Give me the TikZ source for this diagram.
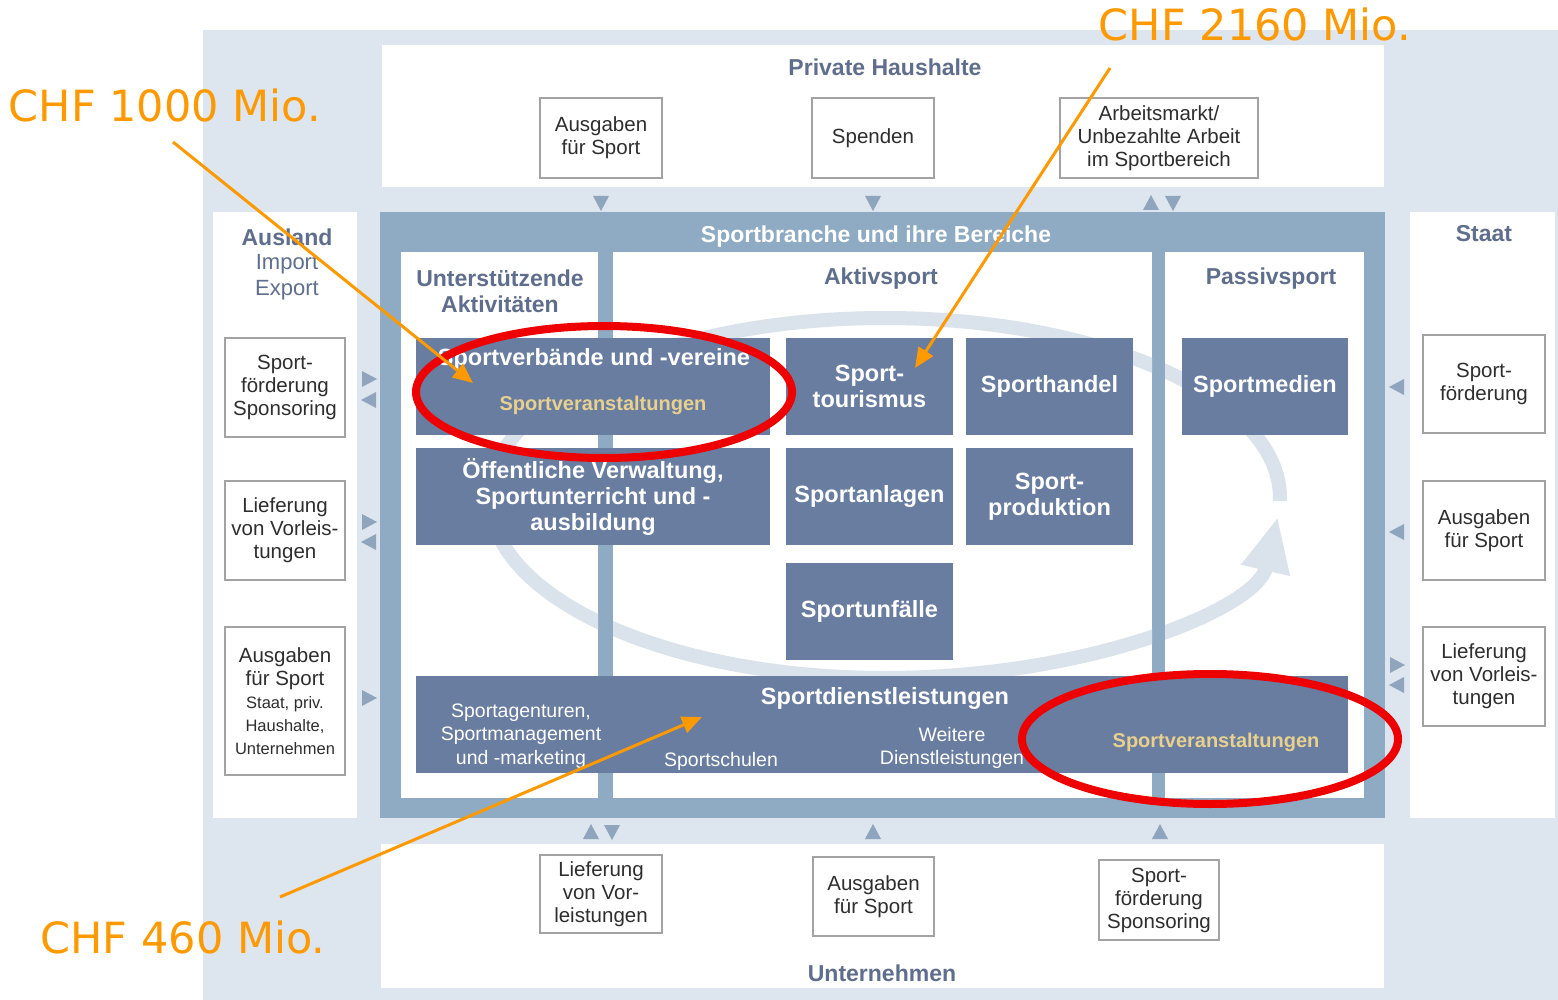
\documentclass[tikz,border=0pt]{standalone}
\usepackage{fontspec}
\setmainfont{Liberation Sans}
\newfontfamily\chffont{DejaVu Sans}
\usetikzlibrary{arrows.meta}
\definecolor{bgpanel}{HTML}{DDE5EE}
\definecolor{framecol}{HTML}{8FABC4}
\definecolor{boxblue}{HTML}{687DA0}
\definecolor{slate}{HTML}{5F6E8C}
\definecolor{tricol}{HTML}{8FA5BD}
\definecolor{boxgray}{HTML}{A3A3A3}
\definecolor{boxtext}{HTML}{2E2E2E}
\definecolor{beige}{HTML}{E8D08F}
\definecolor{cyclecol}{HTML}{DAE2EB}
\definecolor{chforange}{HTML}{FF9900}
\definecolor{ringred}{HTML}{EE0000}
\tikzset{
  smallbox/.style={draw=boxgray, line width=1.5pt, fill=white, align=center,
      inner sep=0pt, text=boxtext, font=\fontsize{20.5}{23}\selectfont},
  darkbox/.style={fill=boxblue, align=center, inner sep=0pt, text=white,
      font=\bfseries\fontsize{23.5}{26}\selectfont},
  boxtitle/.style={text=white, inner sep=0pt, font=\bfseries\fontsize{23.5}{26}\selectfont},
  header/.style={text=slate, align=center, inner sep=0pt, font=\bfseries\fontsize{23}{26}\selectfont},
  subtext/.style={text=white, align=center, inner sep=0pt, font=\fontsize{19.5}{23.5}\selectfont},
  event/.style={text=beige, inner sep=0pt, font=\bfseries\fontsize{20}{24}\selectfont},
  chf/.style={text=chforange, inner sep=0pt, font=\chffont\fontsize{43}{43}\selectfont},
  pointer/.style={draw=chforange, line width=3pt, -{Triangle[length=20pt,width=17pt]}},
  redring/.style={draw=ringred, line width=8pt},
}
\begin{document}
\begin{tikzpicture}[x=1pt, y=-1pt]
  \useasboundingbox (0,0) rectangle (1558,1000);
  % background and sector panels
  \fill[bgpanel] (203,30) rectangle (1558,1000);
  \fill[white] (382,45) rectangle (1384,187);
  \fill[white] (213,212) rectangle (357,818);
  \fill[white] (1410,212) rectangle (1555,818);
  \fill[white] (381,844) rectangle (1384,988);
  \fill[framecol] (380,212) rectangle (1385,818);
  \fill[white] (401,252) rectangle (598,798);
  \fill[white] (613,252) rectangle (1152,798);
  \fill[white] (1165,252) rectangle (1364,798);

  % cycle arrow behind the branches
  \begin{scope}
    \clip (401,252) rectangle (598,798) (613,252) rectangle (1152,798)
          (1165,252) rectangle (1364,798);
    \draw[cyclecol, line width=14pt, -{Triangle[length=55pt,width=46pt]}]
      ({885+395*cos(1)},{498+180*sin(1)})
      arc[start angle=1, end angle=-354, x radius=395, y radius=180];
  \end{scope}

  % headers
  \node[header] (hh) at (885,67) {Private Haushalte};
  \node[header] (ausland) at (287,237) {Ausland};
  \node[header, font=\fontsize{22}{26}\selectfont] (impexp) at (287,277) {Import\\Export};
  \node[header] (staat) at (1484,234) {Staat};
  \node[header] (unt) at (882,973) {Unternehmen};
  \node[header, text=white] (branche) at (876,237) {Sportbranche und ihre Bereiche};
  \node[header] (unterst) at (500,291) {Unterstützende\\Aktivitäten};
  \node[header] (aktiv) at (881,279) {Aktivsport};
  \node[header] (passiv) at (1271,279) {Passivsport};

  % branches
  \node[darkbox, minimum width=354, minimum height=97] (verband) at (593,386.5) {};
  \node[boxtitle] (verbandtxt) at (594,359) {Sportverbände und -vereine};
  \node[event] (eventa) at (603,405) {Sportveranstaltungen};
  \node[darkbox, minimum width=354, minimum height=97] (verwalt) at (593,496.5)
    {Öffentliche Verwaltung,\\Sportunterricht und -\\ausbildung};
  \node[darkbox, minimum width=167, minimum height=97] (tourism) at (869.5,386.5) {Sport-\\tourismus};
  \node[darkbox, minimum width=167, minimum height=97] (handel) at (1049.5,386.5) {Sporthandel};
  \node[darkbox, minimum width=166, minimum height=97] (medien) at (1265,386.5) {Sportmedien};
  \node[darkbox, minimum width=167, minimum height=97] (anlagen) at (869.5,496.5) {Sportanlagen};
  \node[darkbox, minimum width=167, minimum height=97] (produkt) at (1049.5,496.5) {Sport-\\produktion};
  \node[darkbox, minimum width=167, minimum height=97] (unfall) at (869.5,611.5) {Sportunfälle};
  \node[darkbox, minimum width=932, minimum height=97] (dienst) at (882,724.5) {};
  \node[boxtitle] (diensttxt) at (885,698) {Sportdienstleistungen};
  \node[subtext] (agentur) at (521,736) {Sportagenturen,\\Sportmanagement\\und -marketing};
  \node[subtext] (schulen) at (721,761) {Sportschulen};
  \node[subtext] (weitere) at (952,748) {Weitere\\Dienstleistungen};
  \node[event] (eventb) at (1216,742) {Sportveranstaltungen};

  % flows from households
  \node[smallbox, minimum width=122, minimum height=80] (hhausg) at (601,138) {Ausgaben\\für Sport};
  \node[smallbox, minimum width=122, minimum height=80] (hhspend) at (873,138) {Spenden};
  \node[smallbox, minimum width=198, minimum height=80] (hharbeit) at (1159,138)
    {Arbeitsmarkt/\\Unbezahlte Arbeit\\im Sportbereich};
  % flows abroad
  \node[smallbox, minimum width=120, minimum height=99] (ausfoerd) at (285,387.5) {Sport-\\förderung\\Sponsoring};
  \node[smallbox, minimum width=120, minimum height=99] (auslief) at (285,530.5) {Lieferung\\von Vorleis-\\tungen};
  \node[smallbox, minimum width=120, minimum height=148] (ausausg) at (285,701)
    {Ausgaben\\für Sport\\{\fontsize{16.5}{19}\selectfont Staat, priv.}\\{\fontsize{16.5}{19}\selectfont Haushalte,}\\{\fontsize{16.5}{19}\selectfont Unternehmen}};
  % flows from state
  \node[smallbox, minimum width=122, minimum height=98] (stfoerd) at (1484,384) {Sport-\\förderung};
  \node[smallbox, minimum width=122, minimum height=99] (stausg) at (1484,530.5) {Ausgaben\\für Sport};
  \node[smallbox, minimum width=122, minimum height=99] (stlief) at (1484,676.5) {Lieferung\\von Vorleis-\\tungen};
  % flows from companies
  \node[smallbox, minimum width=122, minimum height=78] (ulief) at (601,894) {Lieferung\\von Vor-\\leistungen};
  \node[smallbox, minimum width=121, minimum height=79] (uausg) at (873.5,896.5) {Ausgaben\\für Sport};
  \node[smallbox, minimum width=120, minimum height=80] (ufoerd) at (1159,900) {Sport-\\förderung\\Sponsoring};

  % small flow triangles
  \foreach \x/\y/\r in {601/203/270, 873/203/270, 1151/203/90, 1173/203/270,
      591/832/90, 612/832/270, 873/832/90, 1160/832/90,
      369/379/0, 369/400/180, 369/522/0, 369/542/180, 369/698/0,
      1397/387/180, 1397/532/180, 1397/665/0, 1397/685/180}
    \fill[tricol, shift={(\x,\y)}, rotate=\r] (8,0) -- (-7,8) -- (-7,-8) -- cycle;

  % highlights
  \draw[redring] (604,392) ellipse [x radius=188, y radius=66];
  \draw[redring] (1210,739) ellipse [x radius=188, y radius=65];

  % amounts
  \node[chf] (chf1000) at (165,105) {CHF 1000 Mio.};
  \node[chf] (chf2160) at (1255,24) {CHF 2160 Mio.};
  \node[chf] (chf460) at (183,937) {CHF 460 Mio.};
  \coordinate (s1000) at (173,142);
  \coordinate (t1000) at (473,383);
  \coordinate (s2160) at (1110,68);
  \coordinate (t2160) at (915,368);
  \coordinate (s460) at (280,897);
  \coordinate (t460) at (702,717);
  \draw[pointer] (s1000) -- (t1000);
  \draw[pointer] (s2160) -- (t2160);
  \draw[pointer] (s460) -- (t460);
\end{tikzpicture}
\end{document}
